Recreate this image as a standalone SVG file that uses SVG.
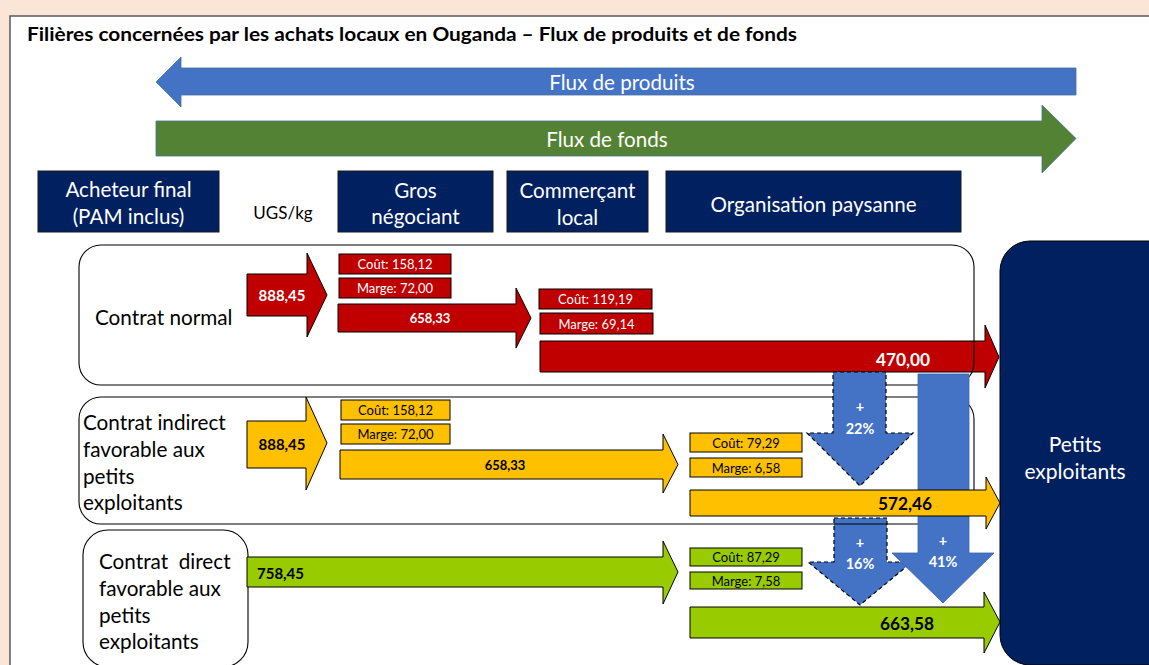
<svg xmlns="http://www.w3.org/2000/svg" width="1149" height="665" viewBox="0 0 1149 665">
<style>
.t{font-family:Lato,"Liberation Sans",sans-serif}
.hb{fill:#002060;stroke:#1a1a1a;stroke-width:1}
.ht{font-family:Lato,"Liberation Sans",sans-serif;font-size:20.6px;fill:#fff;text-anchor:middle;dominant-baseline:central}
.lbl{font-family:Lato,"Liberation Sans",sans-serif;font-size:20.7px;fill:#000;dominant-baseline:central}
.box{fill:none;stroke:#000;stroke-width:1.1}
.red{fill:#C00000;stroke:#000;stroke-width:1}
.yel{fill:#FFC000;stroke:#000;stroke-width:1}
.grn{fill:#99CC00;stroke:#000;stroke-width:1}
.st{font-family:Lato,"Liberation Sans",sans-serif;font-size:13px;text-anchor:middle;dominant-baseline:central}
.val{font-family:Lato,"Liberation Sans",sans-serif;font-weight:bold;text-anchor:middle;dominant-baseline:central}
.w{fill:#fff}
.k{fill:#000}
.blu{fill:#4472C4}
.dash{stroke:#000;stroke-width:1.2;stroke-dasharray:4 3}
.pct{font-family:Lato,"Liberation Sans",sans-serif;font-weight:bold;font-size:14.5px;fill:#fff;text-anchor:middle;dominant-baseline:central}
</style>
<rect x="0" y="0" width="1149" height="665" fill="#FBE5D6"/>
<rect x="10" y="16" width="1160" height="670" fill="#fff" stroke="#595959" stroke-width="1.5"/>
<text id="title" class="t" x="27" y="34" font-size="18" font-weight="bold" dominant-baseline="central" textLength="770" lengthAdjust="spacingAndGlyphs">Filières concernées par les achats locaux en Ouganda – Flux de produits et de fonds</text>

<g id="flux-produits">
<polygon points="156,82 181,57 181,68 1076,68 1076,95 181,95 181,107" fill="#4472C4" stroke="#41719C" stroke-width="0.8"/>
<text class="ht" x="622" y="82">Flux de produits</text>
</g>
<g id="flux-fonds">
<polygon points="156,121 1042,121 1042,105 1076,138.5 1042,173 1042,156 156,156" fill="#548235" stroke="#41719C" stroke-width="0.8"/>
<text class="ht" x="607" y="139">Flux de fonds</text>
</g>

<g id="acheteur">
<rect class="hb" x="38" y="171" width="181" height="61"/>
<text class="ht" x="128.5" y="189">Acheteur final</text>
<text class="ht" x="128.5" y="216">(PAM inclus)</text>
</g>
<text id="ugs" class="t" x="283" y="212" font-size="17" text-anchor="middle" dominant-baseline="central">UGS/kg</text>
<g id="gros">
<rect class="hb" x="338" y="171" width="155" height="61"/>
<text class="ht" x="415.5" y="190">Gros</text>
<text class="ht" x="415.5" y="216">négociant</text>
</g>
<g id="commercant">
<rect class="hb" x="507" y="171" width="141" height="61"/>
<text class="ht" x="577.5" y="190">Commerçant</text>
<text class="ht" x="577.5" y="217">local</text>
</g>
<g id="organisation">
<rect class="hb" x="666" y="171" width="295" height="61"/>
<text class="ht" x="813.5" y="204">Organisation paysanne</text>
</g>
<g id="petits">
<rect x="1000" y="241" width="200" height="424" rx="30" fill="#002060" stroke="#000" stroke-width="1"/>
<text class="ht" x="1075" y="443" style="font-size:21px">Petits</text>
<text class="ht" x="1075" y="470" style="font-size:21px">exploitants</text>
</g>

<g id="connectors">
<g id="normal-flows">
<polygon class="red" points="247,274 307,274 307,253 327,295 307,337 307,316 247,316"/>
<text class="val w" x="282" y="295" font-size="15">888,45</text>
<rect class="red" x="339" y="254" width="112" height="20"/>
<text class="st w" x="395" y="264">Coût: 158,12</text>
<rect class="red" x="339" y="278" width="112" height="20"/>
<text class="st w" x="395" y="288">Marge: 72,00</text>
<polygon class="red" points="338,304 516,304 516,288 531,318 516,348 516,332 338,332"/>
<text class="val w" x="430" y="318" font-size="13">658,33</text>
<rect class="red" x="539" y="289" width="113" height="20"/>
<text class="st w" x="595.5" y="299">Coût: 119,19</text>
<rect class="red" x="540" y="313" width="113" height="21"/>
<text class="st w" x="596.5" y="323.5">Marge: 69,14</text>
<polygon class="red" points="540,341 985,341 985,325 999,357 985,388 985,372 540,372"/>
<text class="val w" x="903" y="359" font-size="17.3">470,00</text>
</g>
</g>

<g id="contrat-normal">
<rect class="box" x="79" y="245" width="895" height="140" rx="22"/>
<text class="lbl" x="95" y="317">Contrat normal</text>
</g>

<g id="connectors-2">
<g id="plus16">
<polygon class="blu dash" points="834,518 887,518 887,562 912,562 860,605 808,562 834,562"/>
<text class="pct" x="860" y="542">+</text>
<text class="pct" x="860" y="563">16%</text>
</g>
</g>

<g id="contrat-indirect">
<rect class="box" x="79" y="397" width="895" height="127" rx="22"/>
<text class="lbl" x="83" y="422">Contrat indirect</text>
<text class="lbl" x="83" y="449">favorable aux</text>
<text class="lbl" x="83" y="476">petits</text>
<text class="lbl" x="83" y="502">exploitants</text>
</g>

<g id="connectors-3">
<g id="plus22">
<polygon class="blu dash" points="833,372 886,372 886,433 913,433 860,486 807,433 833,433"/>
<text class="pct" x="860" y="406">+</text>
<text class="pct" x="860" y="428">22%</text>
</g>
<g id="plus41">
<polygon class="blu" stroke="#3A64B0" stroke-width="0.8" points="918,374 969,374 969,553 994,553 943,603 892,553 918,553"/>
<text class="pct" x="943" y="540">+</text>
<text class="pct" x="943" y="561">41%</text>
</g>
<g id="indirect-flows">
<polygon class="yel" points="247,421 306,421 306,397 327,443 306,490 306,468 247,468"/>
<text class="val k" x="282" y="444" font-size="15">888,45</text>
<rect class="yel" x="341" y="400" width="109" height="20"/>
<text class="st k" x="395.5" y="410">Coût: 158,12</text>
<rect class="yel" x="341" y="424" width="109" height="20"/>
<text class="st k" x="395.5" y="434">Marge: 72,00</text>
<polygon class="yel" points="340,450 663,450 663,434 678,464.5 663,493 663,479 340,479"/>
<text class="val k" x="505" y="465" font-size="13">658,33</text>
<rect class="yel" x="690" y="433" width="112" height="19"/>
<text class="st k" x="746" y="442.5">Coût: 79,29</text>
<rect class="yel" x="690" y="458" width="112" height="19"/>
<text class="st k" x="746" y="467.5">Marge: 6,58</text>
<polygon class="yel" points="690,490 986,490 986,477 1000,503 986,529 986,516 690,516"/>
<text class="val k" x="905" y="503" font-size="17.3">572,46</text>
</g>
</g>

<g id="contrat-direct">
<rect class="box" x="83" y="530" width="165" height="137" rx="25"/>
<text class="lbl" x="99" y="561" style="white-space:pre">Contrat  direct</text>
<text class="lbl" x="99" y="588">favorable aux</text>
<text class="lbl" x="99" y="615">petits</text>
<text class="lbl" x="99" y="641">exploitants</text>
</g>

<g id="connectors-4">
<g id="direct-flows">
<polygon class="grn" points="247,557 663,557 663,541 678,572 663,604 663,587 247,587"/>
<text class="val k" x="257" y="573" font-size="15" style="text-anchor:start">758,45</text>
<rect class="grn" x="690" y="548" width="112" height="18"/>
<text class="st k" x="746" y="557">Coût: 87,29</text>
<rect class="grn" x="690" y="572" width="112" height="17"/>
<text class="st k" x="746" y="580.5">Marge: 7,58</text>
<polygon class="grn" points="690,607 984,607 984,592 1000,622 984,653 984,638 690,638"/>
<text class="val k" x="907" y="623" font-size="17.3">663,58</text>
</g>
</g>
</svg>
